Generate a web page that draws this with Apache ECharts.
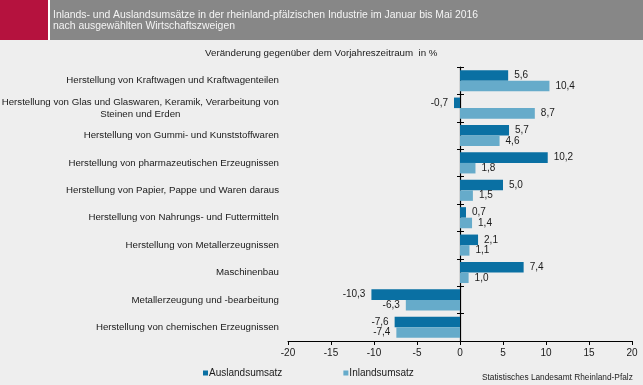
<!DOCTYPE html>
<html><head><meta charset="utf-8">
<script src="https://cdn.jsdelivr.net/npm/echarts@6/dist/echarts.min.js"></script>
<style>html,body{margin:0;padding:0;background:#eeeeee}#c{width:643px;height:385px}</style>
</head><body><div id="c"></div>
<script>
const categories = [
  'Herstellung von Kraftwagen und Kraftwagenteilen',
  'Herstellung von Glas und Glaswaren, Keramik, Verarbeitung von\nSteinen und Erden',
  'Herstellung von Gummi- und Kunststoffwaren',
  'Herstellung von pharmazeutischen Erzeugnissen',
  'Herstellung von Papier, Pappe und Waren daraus',
  'Herstellung von Nahrungs- und Futtermitteln',
  'Herstellung von Metallerzeugnissen',
  'Maschinenbau',
  'Metallerzeugung und -bearbeitung',
  'Herstellung von chemischen Erzeugnissen'
];
const auslandsumsatz = [5.6, -0.7, 5.7, 10.2, 5.0, 0.7, 2.1, 7.4, -10.3, -7.6];
const inlandsumsatz = [10.4, 8.7, 4.6, 1.8, 1.5, 1.4, 1.1, 1.0, -6.3, -7.4];
const seriesNames = ['Auslandsumsatz', 'Inlandsumsatz'];
const xTicks = [-20, -15, -10, -5, 0, 5, 10, 15, 20];

const FONT = 'Liberation Sans, Arial, sans-serif';
const fmt = v => v.toFixed(1).replace('.', ',');
const mk = arr => arr.map(v => ({ value: v, label: { position: v < 0 ? 'left' : 'right' } }));

const chart = echarts.init(document.getElementById('c'), null, { renderer: 'canvas' });
const catAxisBase = {
  type: 'category', data: categories, inverse: true, position: 'left',
  splitLine: { show: false }
};
chart.setOption({
  backgroundColor: '#eeeeee',
  animation: false,
  textStyle: { fontFamily: FONT },
  graphic: [
    { type: 'rect', shape: { x: 0, y: 0, width: 48, height: 40 }, style: { fill: '#b5123e' } },
    { type: 'rect', shape: { x: 48, y: 0, width: 2, height: 40 }, style: { fill: '#ffffff' } },
    { type: 'rect', shape: { x: 50, y: 0, width: 593, height: 40 }, style: { fill: '#878787' } },
    { type: 'text', left: 53, top: 10, style: { text: 'Inlands- und Auslandsumsätze in der rheinland-pfälzischen Industrie im Januar bis Mai 2016\nnach ausgewählten Wirtschaftszweigen', fill: '#f4f4f4', font: '10.4px ' + FONT, lineHeight: 11 } },
    { type: 'text', left: 205, top: 48, style: { text: 'Veränderung gegenüber dem Vorjahreszeitraum  in %', fill: '#1a1a1a', font: '9.75px ' + FONT } },
    { type: 'text', left: 482, top: 374, style: { text: 'Statistisches Landesamt Rheinland-Pfalz', fill: '#222', font: '8.3px ' + FONT } }
  ],
  legend: {
    data: seriesNames, left: 198, top: 363, itemWidth: 5, itemHeight: 5, itemGap: 61,
    icon: 'rect', textStyle: { fontSize: 10, color: '#1a1a1a', fontFamily: FONT, padding: [0,0,0,-4] }
  },
  grid: { left: 288, right: 11, top: 67, bottom: 44, containLabel: false, outerBoundsMode: 'none' },
  xAxis: {
    type: 'value', min: -20, max: 20, interval: 5,
    axisLine: { show: true, lineStyle: { color: '#000', width: 1 } },
    axisTick: { show: true, length: 4, lineStyle: { color: '#000' } },
    axisLabel: { color: '#1a1a1a', fontSize: 10, margin: 7, fontFamily: FONT,
      formatter: v => xTicks.includes(v) ? String(v) : '' },
    splitLine: { show: false }
  },
  yAxis: [
    Object.assign({}, catAxisBase, {
      axisLine: { show: false }, axisTick: { show: false },
      axisLabel: { color: '#1a1a1a', fontSize: 9.7, margin: 9, fontFamily: FONT, align: 'right',
        formatter: v => v.indexOf('\n') >= 0 ? v.split('\n').map(s => '{c|' + s + '}').join('\n') : v,
        rich: { c: { align: 'center', fontSize: 9.7, fontFamily: FONT, color: '#1a1a1a', lineHeight: 12 } } }
    }),
    Object.assign({}, catAxisBase, {
      axisLine: { show: true, onZero: true, onZeroAxisIndex: 0, lineStyle: { color: '#000', width: 1.2 } },
      axisTick: { show: true, inside: false, length: 3, lineStyle: { color: '#000' } },
      axisLabel: { show: false }
    }),
    Object.assign({}, catAxisBase, {
      axisLine: { show: false, onZero: true, onZeroAxisIndex: 0 },
      axisTick: { show: true, inside: true, length: 4, lineStyle: { color: '#000' } },
      axisLabel: { show: false }
    })
  ],
  series: [
    { name: seriesNames[0], type: 'bar', yAxisIndex: 0, data: mk(auslandsumsatz),
      itemStyle: { color: '#0a70a3' }, barGap: '0%', barCategoryGap: '23%',
      label: { show: true, formatter: p => fmt(p.value), color: '#1a1a1a', fontSize: 10, distance: 6, fontFamily: FONT } },
    { name: seriesNames[1], type: 'bar', yAxisIndex: 0, data: mk(inlandsumsatz),
      itemStyle: { color: '#66abca' }, barGap: '0%', barCategoryGap: '23%',
      label: { show: true, formatter: p => fmt(p.value), color: '#1a1a1a', fontSize: 10, distance: 6, fontFamily: FONT } }
  ]
});
</script></body></html>
